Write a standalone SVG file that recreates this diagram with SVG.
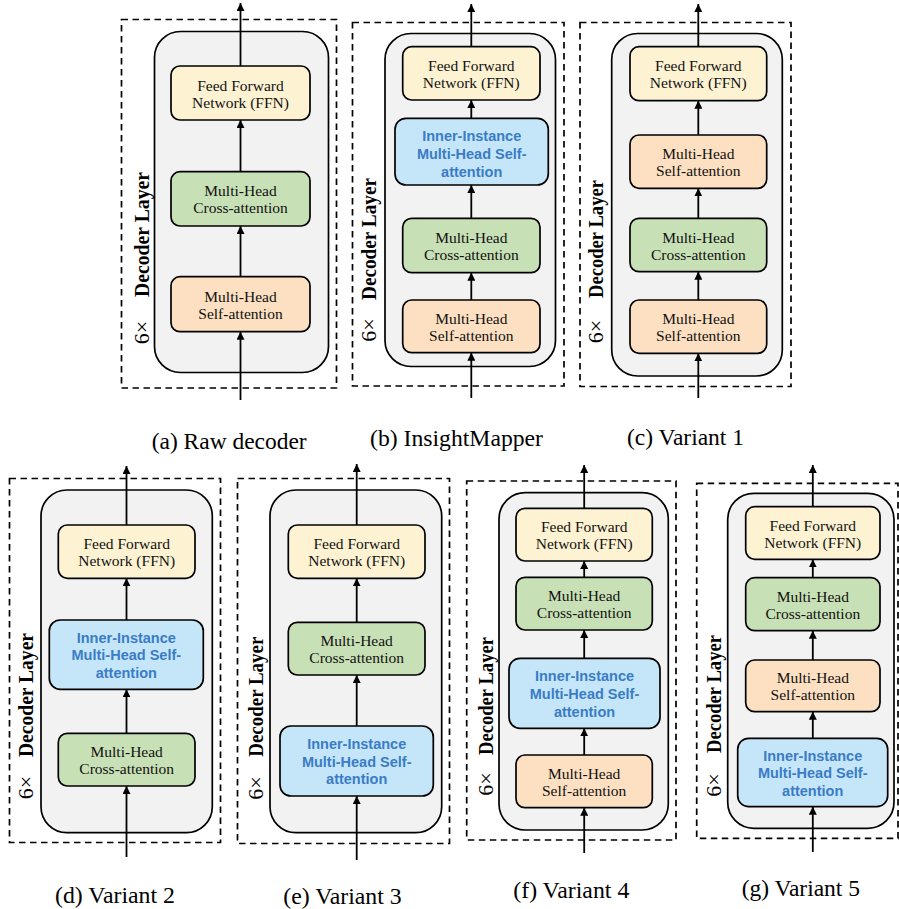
<svg xmlns="http://www.w3.org/2000/svg" width="899" height="909" viewBox="0 0 899 909">
<style>
.dash{fill:none;stroke:#000;stroke-width:1.7;stroke-dasharray:6.5 4.5}
.layer{fill:#f2f2f2;stroke:#000;stroke-width:1.7}
.box{stroke:#000;stroke-width:1.7}
.ffn{fill:#fdf2d2}
.cross{fill:#c8e0b6}
.self{fill:#fde0c2}
.ii{fill:#c4e6f8}
.t{font-family:"Liberation Serif","Times New Roman",serif;font-size:15.5px;fill:#111;text-anchor:middle}
.tb{font-family:"Liberation Sans",Arial,sans-serif;font-weight:bold;font-size:14.5px;fill:#3b7cc6;text-anchor:middle}
.dl{font-family:"Liberation Serif","Times New Roman",serif;font-weight:bold;font-size:20.5px;fill:#000;text-anchor:middle}
.six{font-family:"Liberation Serif","Times New Roman",serif;font-size:22px;fill:#000;text-anchor:middle}
.cap{font-family:"Liberation Serif","Times New Roman",serif;font-size:23.5px;fill:#000}
.conn line{stroke:#000;stroke-width:1.8;marker-end:url(#ah)}
</style>
<defs>
<marker id="ah" viewBox="0 0 10 10" refX="10" refY="5" markerWidth="8" markerHeight="8" markerUnits="userSpaceOnUse" orient="auto">
<path d="M0,0 L10,5 L0,10 z" fill="#000"/>
</marker>
</defs>

<!-- Panel frames -->
<g id="frames">
<rect class="dash" x="121.5" y="19.5" width="215" height="368.5"/>
<rect class="layer" x="154.5" y="31.5" width="174" height="341" rx="26"/>
<rect class="dash" x="352.5" y="22.5" width="211.5" height="363.5"/>
<rect class="layer" x="385" y="33.5" width="170.5" height="333" rx="26"/>
<rect class="dash" x="580" y="22.5" width="211" height="364"/>
<rect class="layer" x="611.7" y="33.5" width="170.6" height="342.5" rx="26"/>
<rect class="dash" x="9.5" y="478.5" width="211" height="364"/>
<rect class="layer" x="41" y="490" width="171.3" height="342.7" rx="26"/>
<rect class="dash" x="237.5" y="478.5" width="212" height="365"/>
<rect class="layer" x="270" y="490" width="171.7" height="342.7" rx="26"/>
<rect class="dash" x="466.7" y="481" width="209.3" height="359"/>
<rect class="layer" x="499" y="492.7" width="169.3" height="337.3" rx="26"/>
<rect class="dash" x="696.7" y="483.3" width="201.3" height="355"/>
<rect class="layer" x="727.7" y="493.3" width="166.3" height="335" rx="26"/>
</g>

<!-- Side labels -->
<g id="labels">
<text class="dl" transform="translate(148.5,234.5) rotate(-90)" textLength="125" lengthAdjust="spacingAndGlyphs">Decoder Layer</text>
<text class="six" transform="translate(148.5,332.5) rotate(-90)">6×</text>
<text class="dl" transform="translate(376,239) rotate(-90)" textLength="122" lengthAdjust="spacingAndGlyphs">Decoder Layer</text>
<text class="six" transform="translate(376,330) rotate(-90)">6×</text>
<text class="dl" transform="translate(603,239) rotate(-90)" textLength="118" lengthAdjust="spacingAndGlyphs">Decoder Layer</text>
<text class="six" transform="translate(603,331.5) rotate(-90)">6×</text>
<text class="dl" transform="translate(33,695) rotate(-90)" textLength="124" lengthAdjust="spacingAndGlyphs">Decoder Layer</text>
<text class="six" transform="translate(33,787.5) rotate(-90)">6×</text>
<text class="dl" transform="translate(263,696.7) rotate(-90)" textLength="120" lengthAdjust="spacingAndGlyphs">Decoder Layer</text>
<text class="six" transform="translate(263,788) rotate(-90)">6×</text>
<text class="dl" transform="translate(493,696) rotate(-90)" textLength="118" lengthAdjust="spacingAndGlyphs">Decoder Layer</text>
<text class="six" transform="translate(493,784) rotate(-90)">6×</text>
<text class="dl" transform="translate(721,694) rotate(-90)" textLength="118" lengthAdjust="spacingAndGlyphs">Decoder Layer</text>
<text class="six" transform="translate(721,785) rotate(-90)">6×</text>
</g>

<!-- Connectors -->
<g id="connectors" class="conn">
<line x1="240.5" y1="400" x2="240.5" y2="331.7"/>
<line x1="240.5" y1="276.7" x2="240.5" y2="226"/>
<line x1="240.5" y1="171.7" x2="240.5" y2="120"/>
<line x1="240.5" y1="66" x2="240.5" y2="3"/>

<line x1="471.3" y1="398" x2="471.3" y2="352.7"/>
<line x1="471.3" y1="300" x2="471.3" y2="272.7"/>
<line x1="471.3" y1="218.3" x2="471.3" y2="185"/>
<line x1="471.3" y1="118.3" x2="471.3" y2="100"/>
<line x1="471.3" y1="46.7" x2="471.3" y2="4"/>

<line x1="698.3" y1="398" x2="698.3" y2="353.3"/>
<line x1="698.3" y1="300" x2="698.3" y2="271.7"/>
<line x1="698.3" y1="218.3" x2="698.3" y2="188.3"/>
<line x1="698.3" y1="135" x2="698.3" y2="100.7"/>
<line x1="698.3" y1="46.7" x2="698.3" y2="4"/>

<line x1="126.5" y1="857" x2="126.5" y2="786"/>
<line x1="126.5" y1="733.3" x2="126.5" y2="689.3"/>
<line x1="126.5" y1="620" x2="126.5" y2="578.3"/>
<line x1="126.5" y1="525" x2="126.5" y2="466"/>

<line x1="356.7" y1="860" x2="356.7" y2="796"/>
<line x1="356.7" y1="726" x2="356.7" y2="675"/>
<line x1="356.7" y1="622.3" x2="356.7" y2="578.3"/>
<line x1="356.7" y1="525" x2="356.7" y2="464"/>

<line x1="584.2" y1="853" x2="584.2" y2="807.7"/>
<line x1="584.2" y1="755" x2="584.2" y2="728.3"/>
<line x1="584.2" y1="658.3" x2="584.2" y2="630"/>
<line x1="584.2" y1="577.3" x2="584.2" y2="561"/>
<line x1="584.2" y1="508.3" x2="584.2" y2="465"/>

<line x1="812.8" y1="852" x2="812.8" y2="806.7"/>
<line x1="812.8" y1="738.3" x2="812.8" y2="711.7"/>
<line x1="812.8" y1="660" x2="812.8" y2="630.7"/>
<line x1="812.8" y1="577.7" x2="812.8" y2="559.3"/>
<line x1="812.8" y1="506.7" x2="812.8" y2="465"/>
</g>

<!-- Panel (a) -->
<g id="a-ffn"><rect class="box ffn" x="171" y="66" width="139" height="54" rx="9"/>
<text class="t"><tspan x="240.5" y="90.5">Feed Forward</tspan><tspan x="240.5" y="107.5">Network (FFN)</tspan></text></g>
<g id="a-cross"><rect class="box cross" x="171" y="171.7" width="139" height="54.3" rx="9"/>
<text class="t"><tspan x="240.5" y="196.3">Multi-Head</tspan><tspan x="240.5" y="213.3">Cross-attention</tspan></text></g>
<g id="a-self"><rect class="box self" x="171" y="276.7" width="139" height="55" rx="9"/>
<text class="t"><tspan x="240.5" y="301.7">Multi-Head</tspan><tspan x="240.5" y="318.7">Self-attention</tspan></text></g>

<!-- Panel (b) -->
<g id="b-ffn"><rect class="box ffn" x="402.7" y="46.7" width="137.3" height="53.3" rx="9"/>
<text class="t"><tspan x="471.3" y="70.8">Feed Forward</tspan><tspan x="471.3" y="87.8">Network (FFN)</tspan></text></g>
<g id="b-ii"><rect class="box ii" x="395" y="118.3" width="153.3" height="66.7" rx="11"/>
<text class="tb"><tspan x="471.7" y="141.2">Inner-Instance</tspan><tspan x="471.7" y="158.9">Multi-Head Self-</tspan><tspan x="471.7" y="176.6">attention</tspan></text></g>
<g id="b-cross"><rect class="box cross" x="402.7" y="218.3" width="137.3" height="54.4" rx="9"/>
<text class="t"><tspan x="471.3" y="243">Multi-Head</tspan><tspan x="471.3" y="260">Cross-attention</tspan></text></g>
<g id="b-self"><rect class="box self" x="402.7" y="300" width="137.3" height="52.7" rx="9"/>
<text class="t"><tspan x="471.3" y="323.8">Multi-Head</tspan><tspan x="471.3" y="340.8">Self-attention</tspan></text></g>

<!-- Panel (c) -->
<g id="c-ffn"><rect class="box ffn" x="630" y="46.7" width="136.7" height="54" rx="9"/>
<text class="t"><tspan x="698.3" y="71.2">Feed Forward</tspan><tspan x="698.3" y="88.2">Network (FFN)</tspan></text></g>
<g id="c-self2"><rect class="box self" x="630" y="135" width="136.7" height="53.3" rx="9"/>
<text class="t"><tspan x="698.3" y="159.2">Multi-Head</tspan><tspan x="698.3" y="176.2">Self-attention</tspan></text></g>
<g id="c-cross"><rect class="box cross" x="630" y="218.3" width="136.7" height="53.4" rx="9"/>
<text class="t"><tspan x="698.3" y="242.5">Multi-Head</tspan><tspan x="698.3" y="259.5">Cross-attention</tspan></text></g>
<g id="c-self"><rect class="box self" x="630" y="300" width="136.7" height="53.3" rx="9"/>
<text class="t"><tspan x="698.3" y="324.2">Multi-Head</tspan><tspan x="698.3" y="341.2">Self-attention</tspan></text></g>

<!-- Panel (d) -->
<g id="d-ffn"><rect class="box ffn" x="58.3" y="525" width="136.7" height="53.3" rx="9"/>
<text class="t"><tspan x="126.7" y="549.2">Feed Forward</tspan><tspan x="126.7" y="566.2">Network (FFN)</tspan></text></g>
<g id="d-ii"><rect class="box ii" x="49.3" y="620" width="154" height="69.3" rx="11"/>
<text class="tb"><tspan x="126.3" y="642.7">Inner-Instance</tspan><tspan x="126.3" y="660.4">Multi-Head Self-</tspan><tspan x="126.3" y="678.1">attention</tspan></text></g>
<g id="d-cross"><rect class="box cross" x="58.3" y="733.3" width="136.7" height="52.7" rx="9"/>
<text class="t"><tspan x="126.7" y="757.2">Multi-Head</tspan><tspan x="126.7" y="774.2">Cross-attention</tspan></text></g>

<!-- Panel (e) -->
<g id="e-ffn"><rect class="box ffn" x="288.3" y="525" width="136.7" height="53.3" rx="9"/>
<text class="t"><tspan x="356.7" y="549.2">Feed Forward</tspan><tspan x="356.7" y="566.2">Network (FFN)</tspan></text></g>
<g id="e-cross"><rect class="box cross" x="288.3" y="622.3" width="136.7" height="52.7" rx="9"/>
<text class="t"><tspan x="356.7" y="646.2">Multi-Head</tspan><tspan x="356.7" y="663.2">Cross-attention</tspan></text></g>
<g id="e-ii"><rect class="box ii" x="280" y="726" width="153.3" height="70" rx="11"/>
<text class="tb"><tspan x="356.7" y="749">Inner-Instance</tspan><tspan x="356.7" y="766.7">Multi-Head Self-</tspan><tspan x="356.7" y="784.4">attention</tspan></text></g>

<!-- Panel (f) -->
<g id="f-ffn"><rect class="box ffn" x="516" y="508.3" width="136.3" height="52.7" rx="9"/>
<text class="t"><tspan x="584.2" y="532.2">Feed Forward</tspan><tspan x="584.2" y="549.2">Network (FFN)</tspan></text></g>
<g id="f-cross"><rect class="box cross" x="516" y="577.3" width="136.3" height="52.7" rx="9"/>
<text class="t"><tspan x="584.2" y="601.2">Multi-Head</tspan><tspan x="584.2" y="618.2">Cross-attention</tspan></text></g>
<g id="f-ii"><rect class="box ii" x="509" y="658.3" width="151" height="70" rx="11"/>
<text class="tb"><tspan x="584.5" y="681.3">Inner-Instance</tspan><tspan x="584.5" y="699">Multi-Head Self-</tspan><tspan x="584.5" y="716.7">attention</tspan></text></g>
<g id="f-self"><rect class="box self" x="516" y="755" width="136.3" height="52.7" rx="9"/>
<text class="t"><tspan x="584.2" y="778.9">Multi-Head</tspan><tspan x="584.2" y="795.9">Self-attention</tspan></text></g>

<!-- Panel (g) -->
<g id="g-ffn"><rect class="box ffn" x="745.7" y="506.7" width="134.3" height="52.6" rx="9"/>
<text class="t"><tspan x="812.8" y="530.5">Feed Forward</tspan><tspan x="812.8" y="547.5">Network (FFN)</tspan></text></g>
<g id="g-cross"><rect class="box cross" x="745.7" y="577.7" width="134.3" height="53" rx="9"/>
<text class="t"><tspan x="812.8" y="601.7">Multi-Head</tspan><tspan x="812.8" y="618.7">Cross-attention</tspan></text></g>
<g id="g-self"><rect class="box self" x="745.7" y="660" width="134.3" height="51.7" rx="9"/>
<text class="t"><tspan x="812.8" y="683.3">Multi-Head</tspan><tspan x="812.8" y="700.3">Self-attention</tspan></text></g>
<g id="g-ii"><rect class="box ii" x="737.7" y="738.3" width="150" height="68.4" rx="11"/>
<text class="tb"><tspan x="812.7" y="760.5">Inner-Instance</tspan><tspan x="812.7" y="778.2">Multi-Head Self-</tspan><tspan x="812.7" y="795.9">attention</tspan></text></g>

<!-- Captions -->
<g id="captions">
<text class="cap" x="151.7" y="448.5" textLength="155" lengthAdjust="spacingAndGlyphs">(a) Raw decoder</text>
<text class="cap" x="370" y="446" textLength="173" lengthAdjust="spacingAndGlyphs">(b) InsightMapper</text>
<text class="cap" x="627" y="445" textLength="117" lengthAdjust="spacingAndGlyphs">(c) Variant 1</text>
<text class="cap" x="55" y="903" textLength="120" lengthAdjust="spacingAndGlyphs">(d) Variant 2</text>
<text class="cap" x="283.3" y="903.5" textLength="118.4" lengthAdjust="spacingAndGlyphs">(e) Variant 3</text>
<text class="cap" x="513.3" y="898" textLength="116" lengthAdjust="spacingAndGlyphs">(f) Variant 4</text>
<text class="cap" x="741.7" y="895.5" textLength="118.3" lengthAdjust="spacingAndGlyphs">(g) Variant 5</text>
</g>
</svg>
